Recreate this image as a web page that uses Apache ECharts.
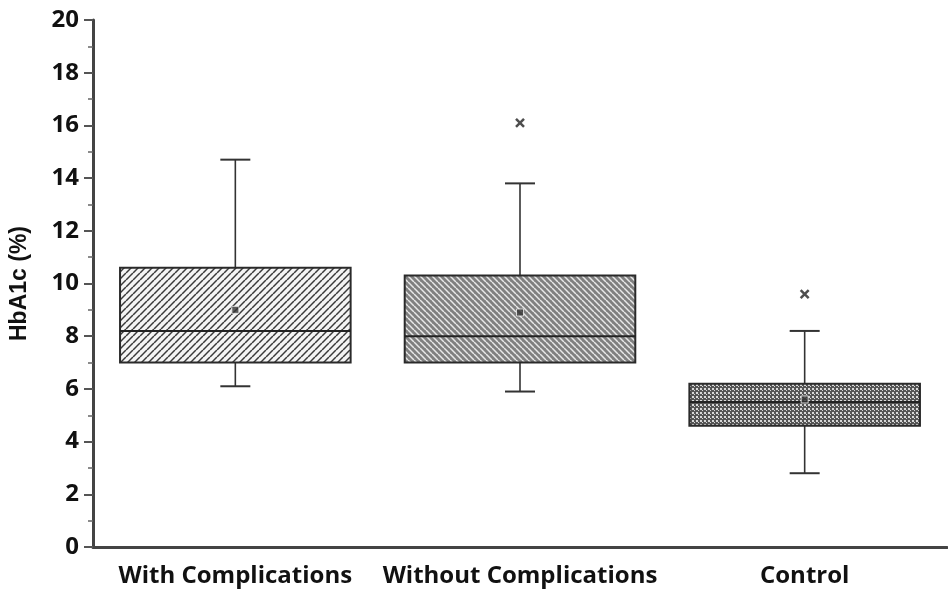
<!DOCTYPE html>
<html>
<head>
<meta charset="utf-8">
<script src="https://cdn.jsdelivr.net/npm/echarts@6/dist/echarts.min.js"></script>
<style>html,body{margin:0;padding:0;background:#fff}#c{width:948px;height:594px}</style>
</head>
<body>
<div id="c"></div>
<script>
const categories = ['With Complications', 'Without Complications', 'Control'];
// [whisker low, Q1, median, Q3, whisker high]
const boxValues = [
  [6.1, 7.0, 8.2, 10.6, 14.7],
  [5.9, 7.0, 8.0, 10.3, 13.8],
  [2.8, 4.6, 5.5, 6.2, 8.2]
];
const meanValues = [9.0, 8.9, 5.6];
const outlierValues = [[1, 16.1], [2, 9.6]];
const yTicks = [0, 2, 4, 6, 8, 10, 12, 14, 16, 18, 20];

function pattern(kind) {
  const c = document.createElement('canvas');
  const ctx = c.getContext('2d');
  if (kind === 0) {
    const s = 7; c.width = c.height = s;
    ctx.fillStyle = '#f4f4f4'; ctx.fillRect(0, 0, s, s);
    ctx.strokeStyle = '#3a3a3a'; ctx.lineWidth = 1.5;
    for (const o of [-s, 0, s]) { ctx.beginPath(); ctx.moveTo(o, s); ctx.lineTo(o + s, 0); ctx.stroke(); }
  } else if (kind === 1) {
    const s = 6; c.width = c.height = s;
    ctx.fillStyle = '#808080'; ctx.fillRect(0, 0, s, s);
    ctx.strokeStyle = '#e8e8e8'; ctx.lineWidth = 1.5;
    for (const o of [-s, 0, s]) { ctx.beginPath(); ctx.moveTo(o, 0); ctx.lineTo(o + s, s); ctx.stroke(); }
  } else {
    const s = 4; c.width = c.height = s;
    ctx.fillStyle = '#555'; ctx.fillRect(0, 0, s, s);
    ctx.fillStyle = '#d8d8d8'; ctx.fillRect(0, 0, 2, 2); ctx.fillRect(2, 2, 1, 1);
  }
  return { image: c, repeat: 'repeat' };
}
const fills = [pattern(0), pattern(1), pattern(2)];

const boxData = boxValues.map((v, i) => [i].concat(v));

const chart = echarts.init(document.getElementById('c'));
chart.setOption({
  animation: false,
  grid: { left: 92, right: 1, top: 20, bottom: 47 },
  xAxis: {
    type: 'category', data: categories,
    axisLine: { lineStyle: { color: '#444', width: 3 } },
    axisTick: { alignWithLabel: true, length: 6, lineStyle: { color: '#555', width: 2 } },
    axisLabel: { interval: 0, color: '#111', fontFamily: 'Open Sans', fontWeight: 'bold', fontSize: 24, margin: 17 }
  },
  yAxis: {
    type: 'value', min: 0, max: 20, interval: 2,
    name: 'HbA1c (%)', nameLocation: 'middle', nameGap: 62,
    nameTextStyle: { color: '#111', fontFamily: 'Liberation Sans', fontWeight: 'bold', fontSize: 23 },
    axisLine: { show: true, lineStyle: { color: '#444', width: 3 } },
    axisTick: { show: true, length: 9, lineStyle: { color: '#555', width: 2 } },
    minorTick: { show: true, splitNumber: 2, length: 5, lineStyle: { color: '#666', width: 1.5 } },
    splitLine: { show: false },
    axisLabel: { color: '#111', fontFamily: 'Open Sans', fontWeight: 'bold', fontSize: 24, margin: 14,
      formatter: v => yTicks.includes(v) ? String(v) : '' }
  },
  series: [
    {
      type: 'custom',
      data: boxData,
      renderItem: function (params, api) {
        const i = api.value(0);
        const bw = api.size([1, 0])[0] * 0.81;
        const capW = 30;
        const pLo = api.coord([i, api.value(1)]);
        const pQ1 = api.coord([i, api.value(2)]);
        const pMed = api.coord([i, api.value(3)]);
        const pQ3 = api.coord([i, api.value(4)]);
        const pHi = api.coord([i, api.value(5)]);
        const x = pQ1[0];
        const ls = { stroke: '#333', lineWidth: 1.6 };
        return {
          type: 'group',
          children: [
            { type: 'line', shape: { x1: x, y1: pHi[1], x2: x, y2: pQ3[1] }, style: ls },
            { type: 'line', shape: { x1: x, y1: pQ1[1], x2: x, y2: pLo[1] }, style: ls },
            { type: 'line', shape: { x1: x - capW / 2, y1: pHi[1], x2: x + capW / 2, y2: pHi[1] }, style: { stroke: '#333', lineWidth: 2 } },
            { type: 'line', shape: { x1: x - capW / 2, y1: pLo[1], x2: x + capW / 2, y2: pLo[1] }, style: { stroke: '#333', lineWidth: 2 } },
            { type: 'rect', shape: { x: x - bw / 2, y: pQ3[1], width: bw, height: pQ1[1] - pQ3[1] },
              style: { fill: fills[i], stroke: '#2a2a2a', lineWidth: 2 } },
            { type: 'line', shape: { x1: x - bw / 2, y1: pMed[1], x2: x + bw / 2, y2: pMed[1] }, style: { stroke: '#222', lineWidth: 2 } }
          ]
        };
      }
    },
    {
      type: 'scatter',
      data: meanValues.map((v, i) => [i, v]),
      symbol: 'rect', symbolSize: 7,
      itemStyle: { color: '#333', borderColor: '#eee', borderWidth: 1 }
    },
    {
      type: 'scatter',
      data: outlierValues,
      symbol: 'path://M0,0L10,10M10,0L0,10', symbolSize: 8,
      itemStyle: { color: 'none', borderColor: '#222', borderWidth: 2.5 }
    }
  ]
});
</script>
</body>
</html>
